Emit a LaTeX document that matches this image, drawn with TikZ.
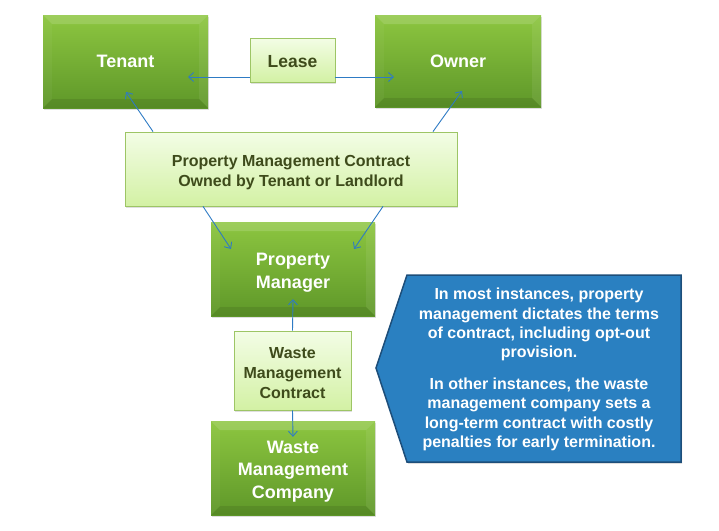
\documentclass[tikz,border=0pt]{standalone}
\usepackage{fontspec}
\setmainfont{Liberation Sans}
\usetikzlibrary{arrows.meta,shadows}
\definecolor{gtop}{HTML}{8DC640}
\definecolor{gbot}{HTML}{5E9729}
\definecolor{ltop}{HTML}{F3FDE6}
\definecolor{lbot}{HTML}{D3F1A4}
\definecolor{lborder}{HTML}{9DC565}
\definecolor{ltext}{HTML}{3E4B1B}
\definecolor{connc}{HTML}{2E7BC4}
\definecolor{cfill}{HTML}{2A80C1}
\definecolor{cborder}{HTML}{1D4E7A}
\tikzset{
  bevel/.style={path picture={
    \fill[white,opacity=0.15] (path picture bounding box.north west) -- (path picture bounding box.north east)
      -- ([xshift=-#1,yshift=-#1]path picture bounding box.north east) -- ([xshift=#1,yshift=-#1]path picture bounding box.north west) -- cycle;
    \fill[black,opacity=0.09] (path picture bounding box.south west) -- (path picture bounding box.south east)
      -- ([xshift=-#1,yshift=#1]path picture bounding box.south east) -- ([xshift=#1,yshift=#1]path picture bounding box.south west) -- cycle;
    \fill[white,opacity=0.04] (path picture bounding box.north west) -- (path picture bounding box.south west)
      -- ([xshift=#1,yshift=#1]path picture bounding box.south west) -- ([xshift=#1,yshift=-#1]path picture bounding box.north west) -- cycle;
    \fill[white,opacity=0.07] (path picture bounding box.north east) -- (path picture bounding box.south east)
      -- ([xshift=-#1,yshift=#1]path picture bounding box.south east) -- ([xshift=-#1,yshift=-#1]path picture bounding box.north east) -- cycle;
  }},
  darkbox/.style={rectangle, top color=gtop, bottom color=gbot, inner sep=0pt,
    drop shadow={opacity=0.25,shadow xshift=1pt,shadow yshift=-1.5pt}, bevel=9pt},
  darktext/.style={text=white, font=\bfseries\fontsize{18}{23}\selectfont, align=center, inner sep=0pt},
  lightbox/.style={rectangle, top color=ltop, bottom color=lbot, draw=lborder, line width=0.8pt, inner sep=0pt,
    drop shadow={opacity=0.25,shadow xshift=1pt,shadow yshift=-1.5pt}},
  lighttext/.style={text=ltext, font=\bfseries\fontsize{16}{20}\selectfont, align=center, inner sep=0pt},
  conn/.style={draw=connc, line width=0.9pt, -{Straight Barb[length=5pt,width=9pt]}},
}
\begin{document}
\begin{tikzpicture}[x=1pt,y=-1pt]
\useasboundingbox (0,0) rectangle (719,530);
% boxes
\node[darkbox, minimum width=165pt, minimum height=93pt,
  label={[darktext]center:Tenant}] (tenant) at (125.5,61.5) {};
\node[darkbox, minimum width=166pt, minimum height=92pt,
  label={[darktext]center:Owner}] (owner) at (458,61) {};
\node[lightbox, minimum width=85pt, minimum height=44pt,
  label={[lighttext,font=\bfseries\fontsize{17.5}{21}\selectfont,yshift=-2pt]center:Lease}] (lease) at (292.5,60) {};
\node[lightbox, minimum width=332pt, minimum height=74pt,
  label={[lighttext,yshift=-3.5pt]center:Property Management Contract\\Owned by Tenant or Landlord}] (pmc) at (291,169) {};
\node[darkbox, minimum width=164pt, minimum height=94pt,
  label={[darktext,yshift=-3.5pt]center:Property\\Manager}] (pm) at (293,269) {};
\node[lightbox, minimum width=117pt, minimum height=79pt,
  label={[lighttext,yshift=-3pt]center:Waste\\Management\\Contract}] (wmc) at (292.5,370.5) {};
\node[darkbox, minimum width=164pt, minimum height=94pt,
  label={[darktext,font=\bfseries\fontsize{18}{22.5}\selectfont,yshift=-3.5pt]center:Waste\\Management\\Company}] (wmco) at (293,468) {};
% arrow tips
\coordinate (tenantTip) at (188,77);
\coordinate (ownerTip) at (394,77);
\coordinate (tenantTip2) at (126,92);
\coordinate (ownerTip2) at (462,91);
\coordinate (pmTipL) at (231,249);
\coordinate (pmTipR) at (354,249);
% connectors
\draw[conn] (lease.west |- tenantTip) -- (tenantTip);
\draw[conn] (lease.east |- ownerTip) -- (ownerTip);
\draw[conn] ([xshift=-138pt]pmc.north) -- (tenantTip2);
\draw[conn] ([xshift=142pt]pmc.north) -- (ownerTip2);
\draw[conn] ([xshift=-88pt]pmc.south) -- (pmTipL);
\draw[conn] ([xshift=92pt]pmc.south) -- (pmTipR);
\draw[conn] (wmc.north) -- ([yshift=17pt]pm.south);
\draw[conn] (wmc.south) -- ([yshift=-16pt]wmco.north);
% callout
\coordinate (c1) at (407,275);
\coordinate (c2) at (681,275);
\coordinate (c3) at (681,462);
\coordinate (c4) at (407,462);
\coordinate (c5) at (376,368);
\fill[black,opacity=0.2] ([xshift=1pt,yshift=-1.5pt]c1) -- ([xshift=1pt,yshift=-1.5pt]c2) -- ([xshift=1pt,yshift=-1.5pt]c3) -- ([xshift=1pt,yshift=-1.5pt]c4) -- ([xshift=1pt,yshift=-1.5pt]c5) -- cycle;
\draw[fill=cfill, draw=cborder, line width=1.5pt, line join=miter] (c1) -- (c2) -- (c3) -- (c4) -- (c5) -- cycle;
\node[text=white, align=center, inner sep=0pt, font=\bfseries\fontsize{16}{19.3}\selectfont] (note) at (539,369.5)
 {In most instances, property\\management dictates the terms\\of contract, including opt-out\\provision.\\[12.7pt]
  In other instances, the waste\\management company sets a\\long-term contract with costly\\penalties for early termination.};
\end{tikzpicture}
\end{document}
